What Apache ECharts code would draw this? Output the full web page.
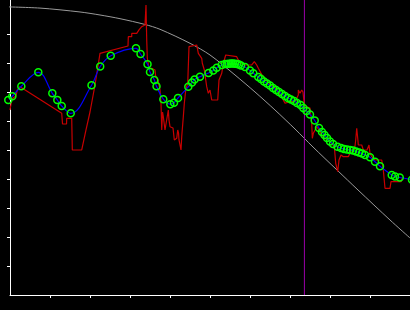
<!DOCTYPE html>
<html>
<head>
<meta charset="utf-8">
<script src="https://cdn.jsdelivr.net/npm/echarts@6/dist/echarts.min.js"></script>
<style>html,body{margin:0;padding:0;background:#000;}#c{width:410px;height:310px;}</style>
</head>
<body>
<div id="c"></div>
<script>
// Smooth reference curve (gray)
const curveX = [-2.5, 7.5, 17.5, 22.5, 27.5, 33.75, 37.5, 45, 50, 56.25, 61.25, 66.25, 71.25, 75.75, 81.75, 87, 95, 100];
const curveY = [99.41, 98.93, 97.59, 96.55, 95.28, 93.28, 91.62, 86.79, 82.76, 75.86, 70, 63.79, 57.24, 51.03, 43.1, 36.21, 25.86, 19.66];

// Raw noisy signal (red)
const rawX = [0, 0.43, 0.83, 1.5, 1.83, 2.5, 2.93, 12.93, 13.13, 14.13, 14.18, 15.43, 15.58, 17.93, 19, 20, 21.25, 22.5, 22.93, 29.5, 29.58, 30.43, 30.43, 31.68, 32.25, 32.93, 33.75, 34, 34.18, 34.33, 34.75, 35.43, 36.25, 36.43, 37, 37.5, 37.75, 37.93, 38.13, 38.33, 38.75, 39.18, 39.58, 39.75, 40, 40.75, 41.08, 41.68, 41.93, 42.13, 42.25, 42.75, 42.93, 43.33, 43.58, 43.93, 44.43, 44.75, 45, 46.68, 47.08, 47.5, 47.93, 48.08, 48.33, 48.58, 48.93, 49.18, 49.58, 50, 50.43, 51.93, 52.25, 52.93, 53.33, 53.93, 54.43, 56.68, 57.08, 57.93, 58.75, 60.43, 61.08, 61.68, 62.08, 63, 64.5, 66.25, 67.93, 68.75, 70, 71.25, 72.08, 72.08, 72.5, 72.93, 73.25, 73.58, 74.18, 75, 75.43, 75.58, 75.83, 76.25, 76.68, 77.25, 77.93, 78.58, 79.58, 80.43, 81.08, 81.43, 81.93, 82.25, 82.75, 83.33, 84.58, 85, 85.43, 86.13, 86.43, 86.68, 86.93, 87.08, 87.93, 88.33, 89.25, 89.75, 90, 90.43, 91.25, 92.93, 93.33, 93.75, 95, 95.25, 97.75, 98.08];
const rawY = [63.79, 67.24, 68.03, 68.62, 70.69, 71.83, 71.62, 62.66, 58.97, 58.97, 60.93, 60.93, 50, 50, 56.9, 63.1, 72.41, 83.34, 83.55, 85.86, 89.07, 89.07, 90.2, 90.2, 91.4, 92.52, 93.1, 100, 87.93, 81.72, 78.17, 78.17, 77.59, 75.28, 74.14, 70.69, 66.21, 56.9, 63.1, 61.48, 56.9, 56.9, 63.79, 60.34, 58.03, 57.59, 53.45, 54.03, 56.9, 55.86, 53.45, 50, 54.59, 61.48, 66.1, 70.69, 73, 85.62, 86.21, 86.21, 83.34, 83.34, 81.62, 79.9, 79.9, 77.59, 78.17, 71.83, 69.55, 70.69, 67.24, 67.24, 74.14, 76.45, 79.9, 82.76, 82.76, 82.17, 81.03, 79.9, 79.31, 79.31, 80.45, 79.31, 78.17, 75.86, 73.45, 71.38, 68.38, 66.1, 66.66, 66.66, 68.97, 70.69, 69.55, 70.69, 70, 65.52, 64.93, 64.48, 59.21, 54.03, 55.76, 55.17, 58.03, 56.9, 55.17, 54.03, 53.45, 52.31, 51.14, 45.41, 42.52, 46.55, 48.28, 47.69, 47.69, 48.97, 50, 50, 53.45, 57.48, 54.03, 51.72, 51.72, 50, 50, 51.72, 48.86, 47.69, 46.55, 46.55, 43.1, 36.79, 36.79, 39.07, 39.07, 40.24];

// Sampled points (blue line, green markers)
const sampleX = [-0.43, 0.58, 2.83, 7.08, 10.58, 11.83, 12.93, 15.18, 20.38, 22.55, 25.18, 31.5, 32.63, 34.38, 35, 36.08, 36.63, 38.33, 40.08, 41, 42, 44.58, 45.5, 46.13, 47.5, 49.63, 50.83, 51.68, 52.93, 53.75, 54.25, 54.75, 55.25, 55.75, 56.25, 56.75, 57.25, 57.75, 58.75, 60, 60.83, 62.08, 62.75, 63.5, 64.25, 65, 65.75, 66.5, 67.25, 68, 68.75, 69.5, 70.25, 71, 71.75, 72.63, 73.33, 74.13, 75, 76.18, 77.25, 78, 78.63, 79.25, 80, 80.75, 81.88, 82.75, 83.5, 84.25, 85, 85.75, 86.5, 87.25, 88, 88.75, 90, 91.25, 92.5, 95.43, 96.25, 97.43, 100.5];
const sampleY = [67.24, 68.52, 71.97, 76.79, 69.55, 67.24, 65.17, 62.66, 72.34, 78.79, 82.52, 85.07, 83.1, 79.59, 76.9, 74.14, 71.97, 67.52, 65.79, 66.31, 67.93, 71.79, 73.28, 74.31, 75.28, 76.55, 77.41, 78.34, 79.31, 79.66, 79.66, 79.76, 79.83, 79.83, 79.76, 79.66, 79.48, 79.14, 78.62, 77.41, 76.45, 75.17, 74.48, 73.62, 72.93, 72.24, 71.38, 70.69, 70, 69.31, 68.62, 67.93, 67.41, 66.9, 66.21, 65.52, 64.48, 63.45, 62.24, 60.17, 57.59, 56.21, 55.17, 54.14, 52.93, 52.07, 51.14, 50.69, 50.34, 50.17, 50, 49.83, 49.48, 49.14, 48.79, 48.28, 47.48, 45.97, 44.38, 41.38, 40.86, 40.52, 39.76];

// Vertical marker position
const markerX = [73.6, 73.6];
const markerY = [0, 101.72];

// Axis tick values
const xTicks = [10, 20, 30, 40, 50, 60, 70, 80, 90];
const yTicks = [10, 20, 30, 40, 50, 60, 70, 80, 90];

const zip = (a, b) => a.map((v, i) => [v, b[i]]);

const chart = echarts.init(document.getElementById('c'), null, {renderer: 'canvas'});
chart.setOption({
  backgroundColor: '#000000',
  animation: false,
  grid: {left: 10, right: 0, top: 0, bottom: 15, containLabel: false},
  xAxis: {
    type: 'value', min: 0, max: 100,
    axisLine: {show: true, lineStyle: {color: '#ffffff', width: 1}},
    axisTick: {show: true, inside: false, length: 3, customValues: xTicks, lineStyle: {color: '#ffffff', width: 1}},
    axisLabel: {show: false},
    splitLine: {show: false}
  },
  yAxis: {
    type: 'value', min: 0, max: 101.72,
    axisLine: {show: true, lineStyle: {color: '#ffffff', width: 1}},
    axisTick: {show: true, inside: false, length: 3, customValues: yTicks, lineStyle: {color: '#ffffff', width: 1}},
    axisLabel: {show: false},
    splitLine: {show: false}
  },
  series: [
    {
      type: 'line', data: zip(curveX, curveY), smooth: 0.3, clip: false,
      symbol: 'none', lineStyle: {color: '#9a9a9a', width: 1}, z: 1
    },
    {
      type: 'line', data: zip(markerX, markerY), clip: false,
      symbol: 'none', lineStyle: {color: '#9a00a8', width: 1}, z: 2
    },
    {
      type: 'line', data: zip(rawX, rawY), smooth: false,
      symbol: 'none', lineStyle: {color: '#c80000', width: 1.2}, z: 3
    },
    {
      type: 'line', data: zip(sampleX, sampleY), smooth: 0.4, clip: false,
      symbol: 'circle', symbolSize: 7, showAllSymbol: true,
      lineStyle: {color: '#0000ff', width: 1.2},
      itemStyle: {color: 'rgba(0,0,0,0)', borderColor: '#00ff00', borderWidth: 1.5},
      z: 4
    }
  ]
});
</script>
</body>
</html>
